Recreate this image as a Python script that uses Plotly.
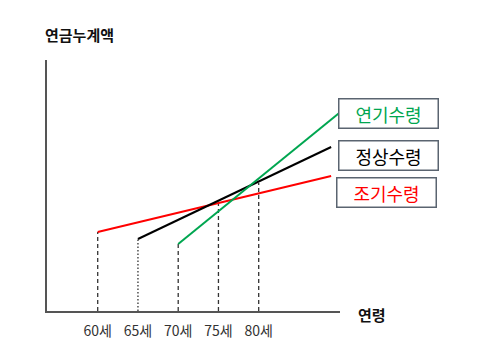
import plotly.graph_objects as go

# Data
early_age = [60, 89]
early_val = [79, 135]
normal_age = [65, 89]
normal_val = [72, 164]
late_age = [70, 90]
late_val = [67, 198]

marker_ages = [60, 65, 70, 75, 80]
marker_tops = [79, 72, 67, 107, 128]
marker_dash = ["4px,3px", "1.5px,2px", "4px,3px", "4px,3px", "4px,3px"]
tick_labels = ["60세", "65세", "70세", "75세", "80세"]

series_names = ["연기수령", "정상수령", "조기수령"]
series_colors = ["#00A650", "#000000", "#FF0000"]

FONT = "Noto Sans CJK KR"

fig = go.Figure()

for a, top, d in zip(marker_ages, marker_tops, marker_dash):
    fig.add_trace(go.Scatter(x=[a, a], y=[0, top], mode="lines",
                             line=dict(color="#333333", width=1.3, dash=d),
                             showlegend=False, hoverinfo="skip"))

fig.add_trace(go.Scatter(x=early_age, y=early_val, mode="lines",
                         line=dict(color=series_colors[2], width=2), showlegend=False))
fig.add_trace(go.Scatter(x=normal_age, y=normal_val, mode="lines",
                         line=dict(color=series_colors[1], width=2), showlegend=False))
fig.add_trace(go.Scatter(x=late_age, y=late_val, mode="lines",
                         line=dict(color=series_colors[0], width=2), showlegend=False))

# label boxes
box_pos = [(1.167, 0.785), (1.167, 0.62), (1.16, 0.474)]
for name, col, (bx, by) in zip(series_names, series_colors, box_pos):
    fig.add_annotation(xref="paper", yref="paper", x=bx, y=by, text=name,
                       xanchor="center", yanchor="middle",
                       showarrow=False, font=dict(family=FONT, size=18, color=col),
                       bordercolor="#5A6470", borderwidth=1.5, borderpad=1,
                       width=96, height=26, align="center", bgcolor="white")

fig.add_annotation(xref="paper", yref="paper", x=-0.013, y=1.1, xanchor="left",
                   yanchor="middle", text="<b>연금누계액</b>", showarrow=False,
                   font=dict(family=FONT, size=15, color="#111111"))
fig.add_annotation(xref="paper", yref="paper", x=1.055, y=0.0, xanchor="left",
                   yanchor="middle", yshift=-3, text="<b>연령</b>", showarrow=False,
                   font=dict(family=FONT, size=15, color="#111111"))

fig.update_layout(
    width=491, height=342,
    margin=dict(l=47, r=151, t=60, b=31, autoexpand=False),
    paper_bgcolor="white", plot_bgcolor="white",
    xaxis=dict(range=[53.7, 90.1], showgrid=False, zeroline=False,
               showline=True, linecolor="#555555", linewidth=1.5,
               tickmode="array", tickvals=marker_ages, ticktext=tick_labels,
               ticks="", ticklabelstandoff=6, automargin=False,
               tickfont=dict(family=FONT, size=14, color="#333333")),
    yaxis=dict(range=[0, 251], showgrid=False, zeroline=False,
               showline=True, linecolor="#555555", linewidth=1.5,
               showticklabels=False, ticks="", automargin=False),
)

fig.write_html("out.html")
